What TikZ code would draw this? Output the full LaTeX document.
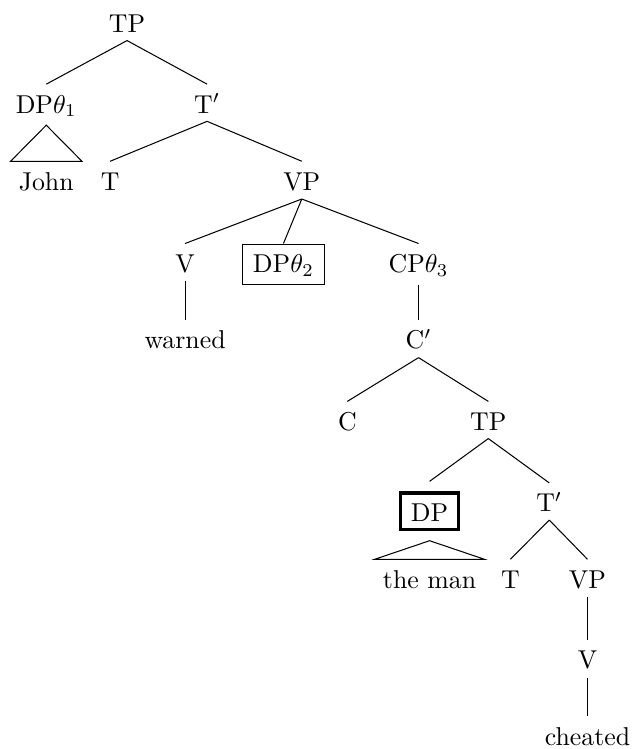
\documentclass[tikz,border=0pt]{standalone}
\usepackage{amsmath}
\begin{document}
\begin{tikzpicture}
		\tikzstyle {cat} = [anchor=base, text height=8pt, inner sep=3pt]
		\tikzstyle {boxed} = [cat, draw, inner xsep=4pt]
		\tikzstyle {focus} = [cat, draw, very thick, inner xsep=4pt, outer sep=4.5pt]

		\useasboundingbox (0,0) rectangle (8.60,-10.20);

		% matrix clause
		\node[cat] (tp) at (1.73,-0.44) {TP};
		\node[cat] (dpone) at (0.63,-1.54) {DP$\theta_1$};
		\node[cat] (tbar) at (2.82,-1.54) {T$'$};
		\node[cat] (john) at (0.63,-2.59) {John};
		\node[cat] (t) at (1.50,-2.59) {T};
		\node[cat] (vp) at (4.11,-2.59) {VP};
		\node[cat] (v) at (2.52,-3.71) {V};
		\node[boxed] (dptwo) at (3.86,-3.71) {DP$\theta_2$};
		\node[cat] (cpthree) at (5.70,-3.71) {CP$\theta_3$};
		\node[cat] (warned) at (2.52,-4.75) {warned};

		% embedded clause
		\node[cat] (cbar) at (5.70,-4.75) {C$'$};
		\node[cat] (c) at (4.73,-5.86) {C};
		\node[cat] (tplow) at (6.65,-5.86) {TP};
		\node[focus] (dp) at (5.85,-7.10) {DP};
		\node[cat] (tbarlow) at (7.48,-6.97) {T$'$};
		\node[cat] (theman) at (5.85,-8.01) {the man};
		\node[cat] (tlow) at (6.95,-8.01) {T};
		\node[cat] (vplow) at (8.00,-8.01) {VP};
		\node[cat] (vlow) at (8.00,-9.11) {V};
		\node[cat] (cheated) at (8.00,-10.15) {cheated};

		\draw (tp.south) -- (dpone.north);
		\draw (tp.south) -- (tbar.north);
		\draw (dpone.south) -- (john.north west) -- (john.north east) -- cycle;
		\draw (tbar.south) -- (t.north);
		\draw (tbar.south) -- (vp.north);
		\draw (vp.south) -- (v.north);
		\draw (vp.south) -- (dptwo.north);
		\draw (vp.south) -- (cpthree.north);
		\draw (v.south) -- (warned.north);
		\draw (cpthree.south) -- (cbar.north);

		\draw (cbar.south) -- (c.north);
		\draw (cbar.south) -- (tplow.north);
		\draw (tplow.south) -- (dp.north);
		\draw (tplow.south) -- (tbarlow.north);
		\draw (dp.south) -- (theman.north west) -- (theman.north east) -- cycle;
		\draw (tbarlow.south) -- (tlow.north);
		\draw (tbarlow.south) -- (vplow.north);
		\draw (vplow.south) -- (vlow.north);
		\draw (vlow.south) -- (cheated.north);

	\end{tikzpicture}
\end{document}
